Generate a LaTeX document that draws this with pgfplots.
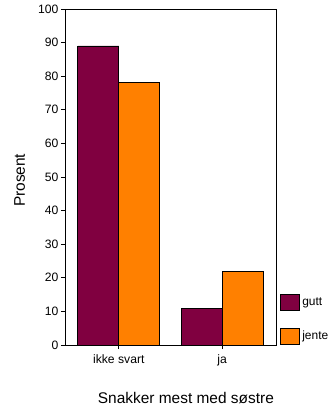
\documentclass[border=0pt]{standalone}
\usepackage{pgfplots}
\pgfplotsset{compat=1.18}
\usepackage{fontspec}
\setmainfont{Liberation Sans}
\definecolor{gutt}{HTML}{800040}
\definecolor{jente}{HTML}{FF8000}
\begin{document}
\begin{tikzpicture}[x=1bp,y=1bp]
\useasboundingbox (0,0) rectangle (333,410);
\begin{axis}[
  at={(65bp,65bp)}, anchor=south west,
  scale only axis, width=211bp, height=336bp,
  ybar=0pt, bar width=41bp,
  xmin=-0.52, xmax=1.52, ymin=0, ymax=100,
  xtick={0,1}, xticklabels={ikke svart,ja},
  ytick={0,10,...,100},
  tick align=outside, tick pos=left,
  major tick length=4bp,
  axis line style={line width=0.9bp},
  tick style={line width=0.9bp, black},
  /pgf/number format/assume math mode=true,
  tick label style={font=\fontsize{12.2}{14}\selectfont},
  yticklabel style={xshift=1bp},
  xticklabel style={yshift=-2bp},
  ylabel={Prosent},
  ylabel style={at={(axis description cs:-0.215,0.49)}, anchor=center, font=\fontsize{15.5}{18}\selectfont},
  xlabel={Snakker mest med søstre},
  xlabel style={at={(axis description cs:0.573,-0.158)}, anchor=center, font=\fontsize{15.5}{18}\selectfont},
  legend style={at={(axis description cs:1.02,0)}, anchor=south west, draw=none, fill=none,
    font=\fontsize{12}{14}\selectfont, row sep=17bp, inner sep=0pt,
    /tikz/every even column/.append style={column sep=0pt}},
  legend image code/.code={\draw[#1, line width=0.9bp] (0bp,-8bp) rectangle (19bp,8bp);},
  legend cell align=left,
]
\addplot[fill=gutt, draw=black, line width=0.9bp] coordinates {(0,89) (1,11)};
\addplot[fill=jente, draw=black, line width=0.9bp] coordinates {(0,78) (1,22)};
\legend{gutt,jente}
\end{axis}
\end{tikzpicture}
\end{document}
